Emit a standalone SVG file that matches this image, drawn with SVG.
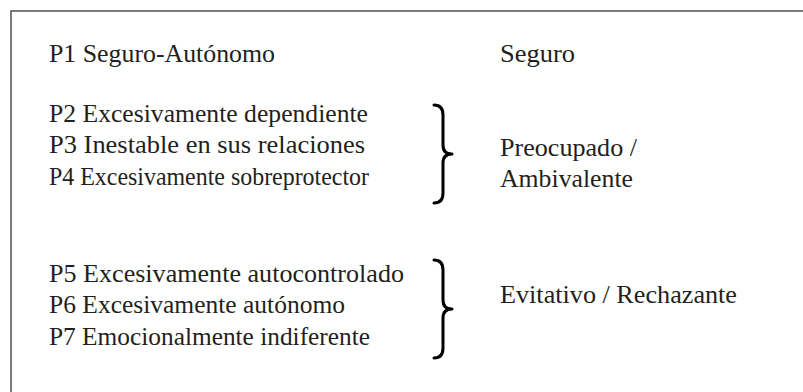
<svg xmlns="http://www.w3.org/2000/svg" xmlns:xlink="http://www.w3.org/1999/xlink" width="803" height="392" viewBox="0 0 803 392">
<style>
  text { font-family: "Liberation Serif", serif; font-size: 26px; fill: #231f20; }
  .brace { fill: none; stroke: #000; stroke-width: 3; stroke-linecap: round; stroke-linejoin: round; }
  .frame { fill: #fff; stroke: #5a5a5a; stroke-width: 1.6; }
</style>
<defs>
  <path id="brace" class="brace" d="M434,105 Q443,105 443,115 L443,145 Q443,154 452,154 Q443,154 443,163 L443,193 Q443,203 434,203"/>
</defs>
<rect class="frame" x="11" y="11" width="810" height="400"/>
<g id="p1">
  <text x="49" y="62" textLength="226" lengthAdjust="spacingAndGlyphs">P1 Seguro-Autónomo</text>
</g>
<g id="seguro">
  <text x="500" y="62" textLength="75" lengthAdjust="spacingAndGlyphs">Seguro</text>
</g>
<g id="grupo-preocupado">
  <text x="49" y="122" textLength="319" lengthAdjust="spacingAndGlyphs">P2 Excesivamente dependiente</text>
  <text x="49" y="153" textLength="316" lengthAdjust="spacingAndGlyphs">P3 Inestable en sus relaciones</text>
  <text x="49" y="185" textLength="320" lengthAdjust="spacingAndGlyphs">P4 Excesivamente sobreprotector</text>
</g>
<g id="preocupado">
  <text x="500" y="156" textLength="137" lengthAdjust="spacingAndGlyphs">Preocupado /</text>
  <text x="500" y="187" textLength="133" lengthAdjust="spacingAndGlyphs">Ambivalente</text>
</g>
<g id="grupo-evitativo">
  <text x="49" y="282" textLength="355" lengthAdjust="spacingAndGlyphs">P5 Excesivamente autocontrolado</text>
  <text x="49" y="313" textLength="296" lengthAdjust="spacingAndGlyphs">P6 Excesivamente autónomo</text>
  <text x="49" y="345" textLength="321" lengthAdjust="spacingAndGlyphs">P7 Emocionalmente indiferente</text>
</g>
<g id="evitativo">
  <text x="500" y="303" textLength="237" lengthAdjust="spacingAndGlyphs">Evitativo / Rechazante</text>
</g>
<g id="connectors">
  <use xlink:href="#brace"/>
  <use xlink:href="#brace" transform="translate(0,155)"/>
</g>
</svg>
